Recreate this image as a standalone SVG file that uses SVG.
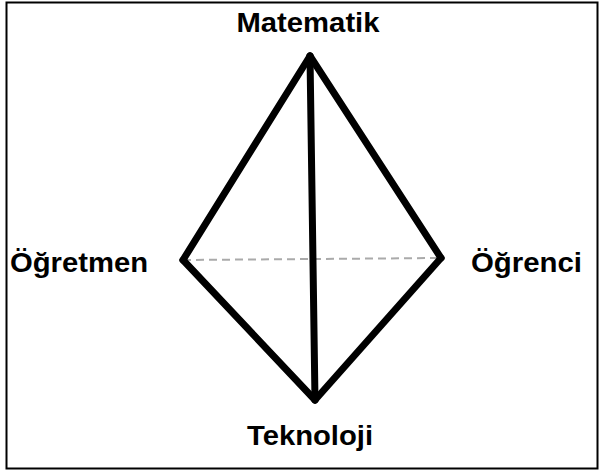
<svg xmlns="http://www.w3.org/2000/svg" width="602" height="472" viewBox="0 0 602 472">
<style>
.lbl{font-family:"Liberation Sans",Arial,sans-serif;font-weight:bold;font-size:28px;fill:#000}
.edge{stroke:#000;stroke-width:7;stroke-linecap:round;stroke-linejoin:round;fill:none}
.dash{stroke:#aaa;stroke-width:2;stroke-dasharray:8 5;fill:none}
</style>
<rect x="6.5" y="2.5" width="591" height="466" fill="#fff" stroke="#000" stroke-width="2"/>
<g id="connectors">
<line class="dash" x1="183" y1="260" x2="441" y2="258"/>
<line class="edge" x1="310" y1="56" x2="183" y2="260"/>
<line class="edge" x1="310" y1="56" x2="441" y2="258"/>
<line class="edge" x1="183" y1="260" x2="315" y2="400"/>
<line class="edge" x1="441" y1="258" x2="315" y2="400"/>
<line class="edge" x1="310" y1="56" x2="315" y2="400"/>
</g>
<g id="matematik"><text class="lbl" x="308" y="32" text-anchor="middle" textLength="143" lengthAdjust="spacingAndGlyphs">Matematik</text></g>
<g id="ogretmen"><text class="lbl" x="10" y="272" textLength="138" lengthAdjust="spacingAndGlyphs">Öğretmen</text></g>
<g id="ogrenci"><text class="lbl" x="471" y="272" textLength="111" lengthAdjust="spacingAndGlyphs">Öğrenci</text></g>
<g id="teknoloji"><text class="lbl" x="310" y="445" text-anchor="middle" textLength="126" lengthAdjust="spacingAndGlyphs">Teknoloji</text></g>
</svg>
